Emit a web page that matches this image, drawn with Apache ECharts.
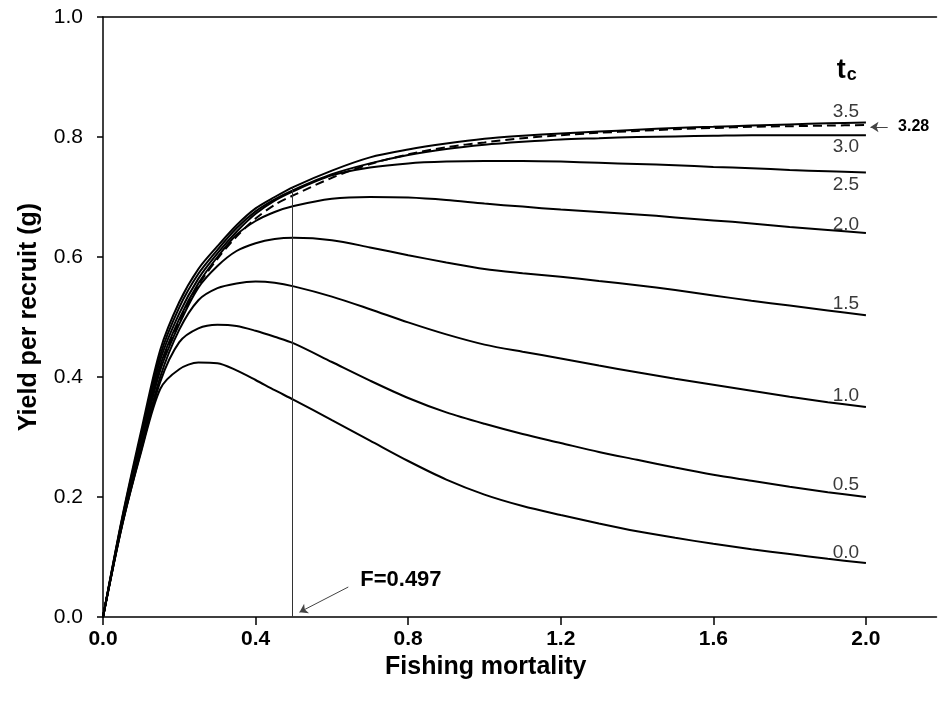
<!DOCTYPE html>
<html>
<head>
<meta charset="utf-8">
<script src="https://cdn.jsdelivr.net/npm/echarts@6/dist/echarts.min.js"></script>
<style>
html,body{margin:0;padding:0;background:#fff;}
#chart{width:938px;height:705px;}
</style>
</head>
<body>
<div id="chart"></div>
<script>
// Fishing mortality grid
var F = [0, 0.05, 0.1, 0.15, 0.2, 0.25, 0.3, 0.35, 0.4, 0.45, 0.5,
         0.6, 0.7, 0.8, 0.9, 1.0, 1.1, 1.2, 1.3, 1.4, 1.5, 1.6, 1.7, 1.8, 1.9, 2.0];
// Yield per recruit curves, one per age at first capture tc
var tc00 = [0, .152, .275, .380, .413, .424, .423, .411, .395, .378, .362,
            .328, .294, .260, .229, .204, .185, .170, .156, .143, .132, .122, .113, .105, .097, .090];
var tc05 = [0, .153, .278, .392, .458, .481, .487, .485, .477, .467, .456,
            .425, .394, .365, .341, .322, .305, .290, .275, .262, .249, .237, .227, .217, .208, .200];
var tc10 = [0, .154, .281, .400, .479, .528, .548, .556, .559, .557, .551,
            .534, .513, .491, .471, .454, .442, .431, .419, .408, .397, .387, .377, .367, .358, .350];
var tc15 = [0, .156, .287, .411, .488, .549, .585, .610, .623, .630, .632,
            .628, .616, .603, .591, .580, .573, .567, .560, .553, .545, .536, .527, .519, .511, .503];
var tc20 = [0, .158, .293, .419, .497, .556, .600, .637, .660, .675, .685,
            .697, .700, .699, .695, .689, .684, .679, .675, .671, .666, .661, .656, .650, .645, .640];
var tc25 = [0, .161, .299, .428, .506, .564, .606, .642, .672, .694, .710,
            .736, .749, .756, .759, .760, .760, .759, .757, .755, .753, .750, .748, .745, .743, .741];
var tc30 = [0, .163, .304, .436, .516, .572, .612, .648, .676, .696, .712,
            .738, .756, .770, .780, .787, .792, .796, .798, .800, .801, .802, .803, .803, .803, .803];
var tc328 = [0, .158, .290, .415, .493, .553, .597, .634, .664, .687, .703,
             .732, .755, .771, .783, .791, .798, .803, .807, .810, .813, .815, .817, .818, .819, .820];
var tc35 = [0, .165, .310, .445, .525, .580, .618, .653, .681, .700, .717,
            .744, .766, .779, .789, .797, .802, .806, .809, .812, .815, .817, .819, .821, .823, .824];

var curveNames = ['0.0', '0.5', '1.0', '1.5', '2.0', '2.5', '3.0', '3.5'];
var curveData = [tc00, tc05, tc10, tc15, tc20, tc25, tc30, tc35];
var labelDy = [-10, -12, -11, -11, -8, 12, 12, -11];

var xTicks = [0, 0.4, 0.8, 1.2, 1.6, 2.0];
var optimumF = 0.497;
var optimumY = 0.716;

var FONT = '"Liberation Sans", Arial, sans-serif';

function pairs(ys) { return F.map(function (f, i) { return [f, ys[i]]; }); }

var series = curveData.map(function (ys, k) {
  return {
    type: 'line', name: curveNames[k], data: pairs(ys),
    showSymbol: false, smooth: 0.3, silent: true,
    lineStyle: { color: '#000', width: 2 },
    markPoint: {
      silent: true, symbol: 'circle', symbolSize: 0,
      label: { show: true, position: 'inside', offset: [-20, labelDy[k]], formatter: curveNames[k], color: '#3a3a3a', fontSize: 19, fontFamily: FONT },
      data: [{ coord: [F[F.length - 1], ys[ys.length - 1]] }]
    }
  };
});

series.push({
  type: 'line', name: '3.28', data: pairs(tc328),
  showSymbol: false, smooth: 0.3, silent: true,
  lineStyle: { color: '#000', width: 2, type: [9, 5] },
  markLine: {
    silent: true, symbol: 'none',
    lineStyle: { color: '#333', width: 1, type: 'solid' },
    label: { show: false },
    data: [
      [{ coord: [optimumF, 0] }, { coord: [optimumF, optimumY] }]
    ]
  }
});

// annotations
series.push({
  type: 'line', data: [], silent: true,
  markLine: {
    silent: true, symbol: ['none', 'arrow'], symbolSize: 8,
    lineStyle: { color: '#444', width: 1, type: 'solid' },
    label: { show: false },
    data: [
      [{ coord: [2.057, 0.8167] }, { coord: [2.012, 0.8167] }],
      [{ coord: [0.643, 0.050] }, { coord: [0.515, 0.008] }]
    ]
  },
  markPoint: {
    silent: true, symbol: 'circle', symbolSize: 0,
    data: [
      { coord: [2.125, 0.8167], label: { show: true, position: 'inside', formatter: '3.28', fontWeight: 'bold', fontSize: 16, color: '#000', fontFamily: FONT } },
      { coord: [0.781, 0.061], label: { show: true, position: 'inside', formatter: 'F=0.497', fontWeight: 'bold', fontSize: 22, color: '#000', fontFamily: FONT } },
      { coord: [1.95, 0.91], label: { show: true, position: 'inside', formatter: '{t|t}{c|c}', rich: {
        t: { fontSize: 27, fontWeight: 'bold', color: '#000', fontFamily: FONT, verticalAlign: 'bottom' },
        c: { fontSize: 18, fontWeight: 'bold', color: '#000', fontFamily: FONT, verticalAlign: 'bottom', padding: [0, 0, 0, 1] }
      } } }
    ]
  }
});

var chart = echarts.init(document.getElementById('chart'), null, { renderer: 'canvas' });
chart.setOption({
  animation: false,
  backgroundColor: '#fff',
  grid: { left: 103, top: 17, right: 1.5, bottom: 88, containLabel: false },
  xAxis: [{
    type: 'value', min: 0, max: 2.185, position: 'bottom',
    name: 'Fishing mortality', nameLocation: 'middle', nameGap: 36,
    nameTextStyle: { fontSize: 25, fontWeight: 'bold', color: '#000', fontFamily: FONT, padding: [0, 68, 0, 0] },
    axisLine: { show: true, onZero: false, lineStyle: { color: '#000', width: 1.5 } },
    axisTick: { show: true, inside: false, length: 8, customValues: xTicks, lineStyle: { color: '#000', width: 1.5 } },
    axisLabel: { customValues: xTicks, formatter: function (v) { return v.toFixed(1); }, fontSize: 21, fontWeight: 'bold', color: '#000', margin: 12, fontFamily: FONT },
    splitLine: { show: false }
  }, {
    type: 'value', min: 0, max: 2.185, position: 'top',
    axisLine: { show: true, onZero: false, lineStyle: { color: '#000', width: 1.5 } },
    axisTick: { show: false }, axisLabel: { show: false }, splitLine: { show: false }
  }],
  yAxis: {
    type: 'value', min: 0, max: 1.0, interval: 0.2,
    name: 'Yield per recruit (g)', nameLocation: 'middle', nameGap: 61, nameRotate: 90,
    nameTextStyle: { fontSize: 25, fontWeight: 'bold', color: '#000', fontFamily: FONT },
    axisLine: { show: true, onZero: false, lineStyle: { color: '#000', width: 1.5 } },
    axisTick: { show: true, inside: false, length: 6, lineStyle: { color: '#000', width: 1.5 } },
    axisLabel: { formatter: function (v) { return v.toFixed(1); }, fontSize: 21, color: '#000', margin: 20, fontFamily: FONT },
    splitLine: { show: false }
  },
  series: series
});
</script>
</body>
</html>
